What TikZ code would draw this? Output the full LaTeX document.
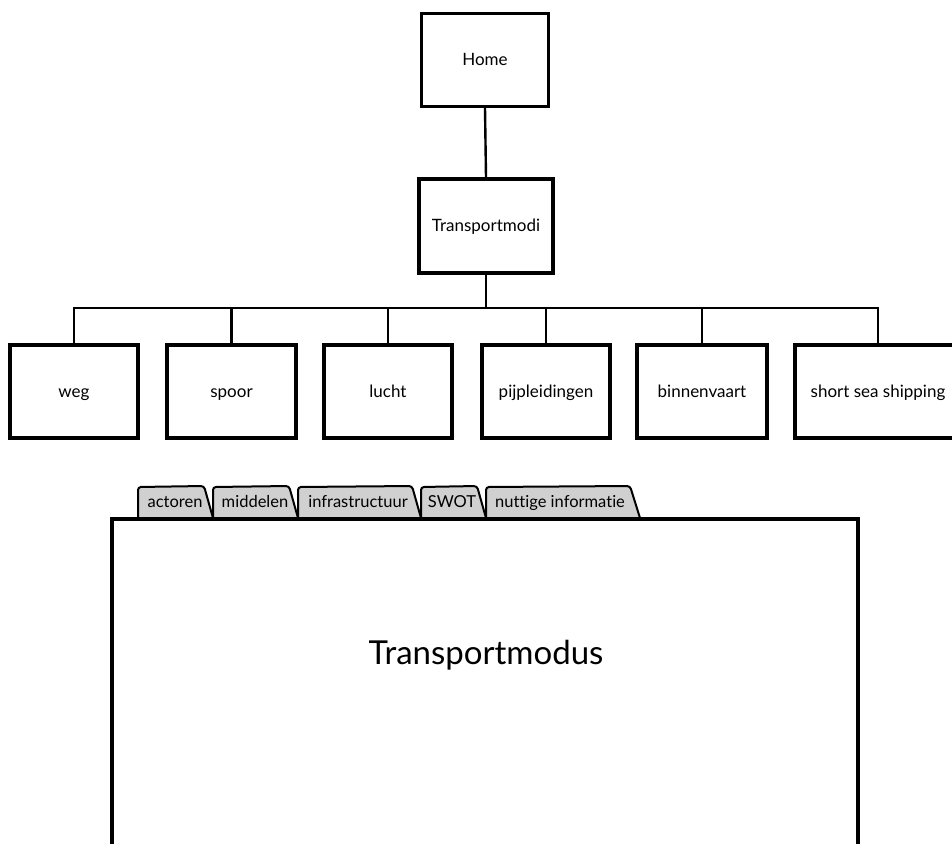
\documentclass[tikz,border=0pt]{standalone}
\usepackage{fontspec}
\setmainfont[Ligatures={NoCommon}]{Lato}
\definecolor{tabgray}{HTML}{D0D0D0}
\tikzset{
  pagebox/.style={draw=black, line width=3.2pt, fill=white, rectangle, minimum height=93pt, inner sep=0pt, text height=14pt, text depth=3pt, font=\fontsize{17}{19}\selectfont},
  link/.style={draw=black, line width=2.4pt},
  tabshape/.style={draw=black, line width=2pt, fill=tabgray, rounded corners=3pt},
  tablabel/.style={inner sep=0pt, text height=13pt, text depth=4pt, font=\fontsize{16.5}{19}\selectfont, anchor=center},
}
\begin{document}
\begin{tikzpicture}[x=1pt,y=-1pt]
\useasboundingbox (0,0) rectangle (952,843);
\begin{scope}
\clip (0,0) rectangle (952,843);
% tree
\node[pagebox, minimum width=127pt] (home) at (485,60) {Home};
\node[pagebox, minimum width=134pt, minimum height=94pt] (tm) at (486,226) {Transportmodi};
\node[pagebox, minimum width=128pt] (weg) at (74,391.5) {weg};
\node[pagebox, minimum width=129pt] (spoor) at (231.5,391.5) {spoor};
\node[pagebox, minimum width=128pt] (lucht) at (388,391.5) {lucht};
\node[pagebox, minimum width=128pt] (pijp) at (546,391.5) {pijpleidingen};
\node[pagebox, minimum width=130pt] (binnen) at (702,391.5) {binnenvaart};
\node[pagebox, minimum width=166pt] (sss) at (878,391.5) {short sea shipping};
\coordinate (bus) at (486,308);
\draw[link] (home.south) -- (tm.north);
\draw[link] (tm.south) -- (bus);
\draw[link] (bus) -| (weg.north);
\draw[link] (bus) -| (spoor.north);
\draw[link] (bus) -| (lucht.north);
\draw[link] (bus) -| (pijp.north);
\draw[link] (bus) -| (binnen.north);
\draw[link] (bus) -| (sss.north);
% tabs
\draw[tabshape] (138,518) -- (138,487) -- (204,486) -- (213,518);
\draw[tabshape] (213,518) -- (213,487) -- (289,486) -- (298,518);
\draw[tabshape] (298,518) -- (298,487) -- (412,486) -- (421,518);
\draw[tabshape] (421,518) -- (421,487) -- (477,486) -- (486,518);
\draw[tabshape] (486,518) -- (486,487) -- (630,486) -- (640,518);
\node[tablabel] (t1) at (175,503) {actoren};
\node[tablabel] (t2) at (255,503) {middelen};
\node[tablabel] (t3) at (358,503) {infrastructuur};
\node[tablabel] (t4) at (452,503) {SWOT};
\node[tablabel] (t5) at (560,503) {nuttige informatie};
% main panel
\draw[draw=black, line width=3.2pt, fill=white] (112,860) -- (112,519) -- (858,519) -- (858,860);
\node[inner sep=0pt, font=\fontsize{33}{36}\selectfont] (main) at (486,655) {Transportmodus};
\end{scope}
\end{tikzpicture}
\end{document}
